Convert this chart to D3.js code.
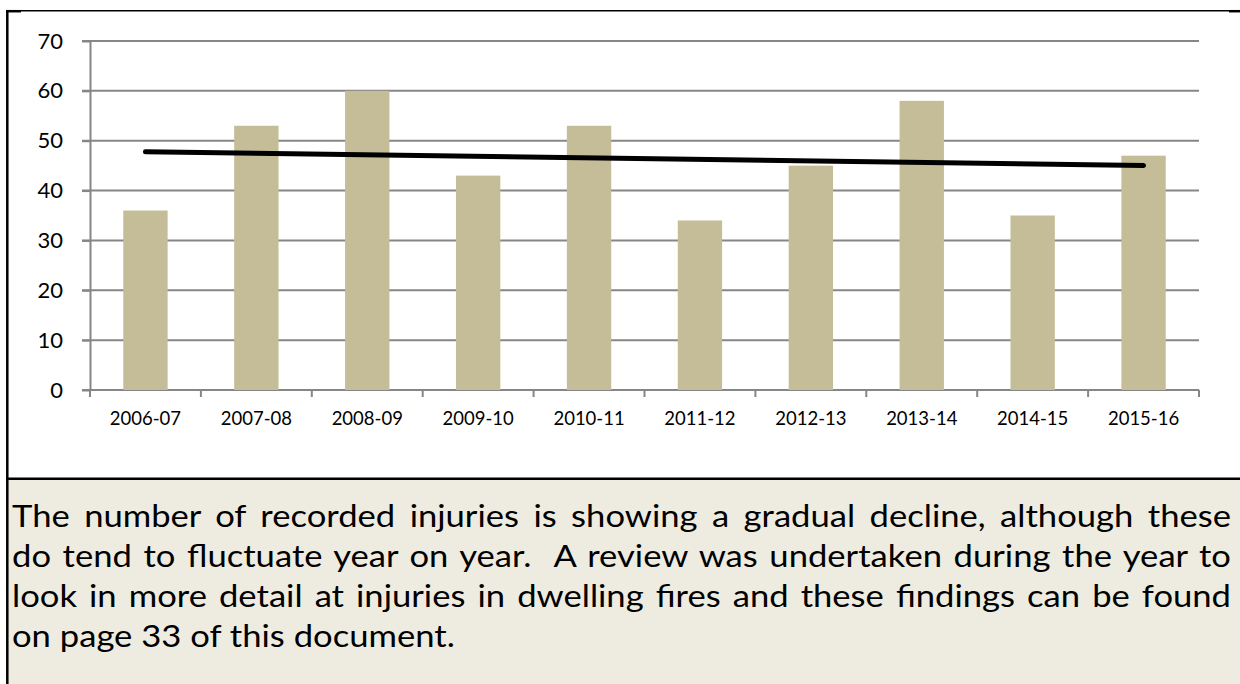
<!DOCTYPE html>
<html>
<head>
<meta charset="utf-8">
<script src="https://cdn.jsdelivr.net/npm/d3@7"></script>
<style>
	html, body { margin: 0; padding: 0; background: #fff; }
	svg { display: block; }
	text { font-family: Lato, 'Open Sans', sans-serif; fill: #000; }
</style>
</head>
<body>
<div id="chart"></div>
<script>
const categories = ['2006-07', '2007-08', '2008-09', '2009-10', '2010-11', '2011-12', '2012-13', '2013-14', '2014-15', '2015-16'];
const injuries = [36, 53, 60, 43, 53, 34, 45, 58, 35, 47];
const yTicks = [0, 10, 20, 30, 40, 50, 60, 70];
const captionLines = [
	'The number of recorded injuries is showing a gradual decline, although these',
	'do tend to fluctuate year on year.  A review was undertaken during the year to',
	'look in more detail at injuries in dwelling fires and these findings can be found',
	'on page 33 of this document.'
];

const W = 1240;
const H = 684;

const svg = d3.select('#chart').append('svg')
	.attr('width', W)
	.attr('height', H);

// caption panel
svg.append('rect')
	.attr('x', 7)
	.attr('y', 479)
	.attr('width', W - 7)
	.attr('height', H - 479)
	.attr('fill', '#eeece1');

// frame lines
const frame = svg.append('g').attr('stroke', '#000');
frame.append('line').attr('x1', 6).attr('x2', 1229).attr('y1', 10.7).attr('y2', 10.7).attr('stroke-width', 1.5);
frame.append('line').attr('x1', 6).attr('x2', 21).attr('y1', 11.2).attr('y2', 11.2).attr('stroke-width', 2.5);
frame.append('line').attr('x1', 1229).attr('x2', W).attr('y1', 11.2).attr('y2', 11.2).attr('stroke-width', 2.5);
frame.append('line').attr('x1', 7.3).attr('x2', 7.3).attr('y1', 10).attr('y2', H).attr('stroke-width', 2.5);
frame.append('line').attr('x1', 6).attr('x2', W).attr('y1', 478.8).attr('y2', 478.8).attr('stroke-width', 2.5);

const x = d3.scaleBand()
	.domain(categories)
	.range([90, 1199])
	.paddingInner(0.6)
	.paddingOuter(0.3);

const y = d3.scaleLinear()
	.domain([0, 70])
	.range([390, 41]);

const gridColor = '#868686';

// gridlines
svg.append('g')
	.selectAll('line')
	.data(yTicks)
	.join('line')
	.attr('x1', 82)
	.attr('x2', 1199)
	.attr('y1', d => y(d))
	.attr('y2', d => y(d))
	.attr('stroke', gridColor)
	.attr('stroke-width', 2);

// y axis
const yAxis = svg.append('g')
	.attr('transform', 'translate(90,0)')
	.call(d3.axisLeft(y).tickValues(yTicks).tickSize(8).tickSizeOuter(0).tickPadding(19));
yAxis.selectAll('path, line').attr('stroke', gridColor).attr('stroke-width', 2);
yAxis.selectAll('text')
	.style('font-size', '22px')
	.style('font-family', 'Lato, sans-serif');

// x axis labels
const xAxis = svg.append('g')
	.attr('transform', 'translate(0,390)')
	.call(d3.axisBottom(x).tickSize(0).tickSizeOuter(0));
xAxis.select('.domain').remove();
xAxis.selectAll('text')
	.attr('y', 35)
	.attr('dy', 0)
	.style('font-size', '18.5px')
	.style('font-family', 'Lato, sans-serif');

// category boundary ticks
const boundaries = d3.range(categories.length + 1).map(i => x.range()[0] + i * x.step());
svg.append('g')
	.selectAll('line')
	.data(boundaries)
	.join('line')
	.attr('x1', d => d)
	.attr('x2', d => d)
	.attr('y1', 390)
	.attr('y2', 397)
	.attr('stroke', gridColor)
	.attr('stroke-width', 2);

// bars
svg.append('g')
	.selectAll('rect')
	.data(injuries)
	.join('rect')
	.attr('x', (d, i) => x(categories[i]))
	.attr('y', d => y(d))
	.attr('width', x.bandwidth())
	.attr('height', d => y(0) - y(d))
	.attr('fill', '#c4bd97');

// linear trendline (least squares over the bar values)
const xs = injuries.map((d, i) => i + 1);
const mx = d3.mean(xs);
const my = d3.mean(injuries);
const slope = d3.sum(xs, (v, i) => (v - mx) * (injuries[i] - my)) / d3.sum(xs, v => (v - mx) * (v - mx));
const trend = [0, categories.length - 1].map(i => ({ c: categories[i], v: my + slope * (i + 1 - mx) }));

svg.append('path')
	.datum(trend)
	.attr('d', d3.line().x(d => x(d.c) + x.bandwidth() / 2).y(d => y(d.v)))
	.attr('fill', 'none')
	.attr('stroke', '#000')
	.attr('stroke-width', 5)
	.attr('stroke-linecap', 'round');

// caption, justified like the source paragraph
const capLeft = 12;
const capRight = 1231;
const capFont = 30;

// the source text runs wider than Lato, so stretch it horizontally a bit
const cap = svg.append('g');
const probe = cap.append('text').style('font-size', capFont + 'px').text('on page 33 of this');
const sx = 273 / probe.node().getComputedTextLength();
probe.remove();
cap.attr('transform', `translate(${capLeft},0) scale(${sx},1)`);

captionLines.forEach((line, i) => {
	const t = cap.append('text')
		.attr('x', 0)
		.attr('y', 527 + i * 40)
		.style('font-size', capFont + 'px')
		.attr('xml:space', 'preserve')
		.text(line);
	if (i < captionLines.length - 1) {
		const spaces = line.split(' ').length - 1;
		const extra = ((capRight - capLeft) / sx - t.node().getComputedTextLength()) / spaces;
		t.style('word-spacing', extra + 'px');
	}
});
</script>
</body>
</html>
